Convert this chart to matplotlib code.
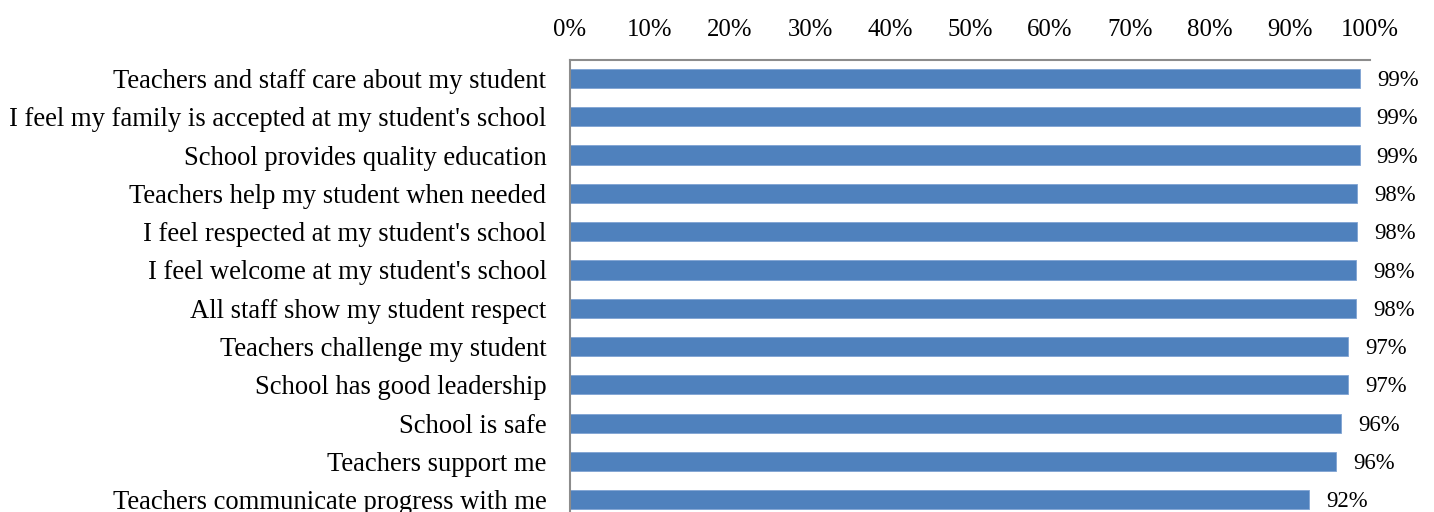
import matplotlib
matplotlib.use("Agg")
import matplotlib.pyplot as plt
from matplotlib.ticker import PercentFormatter

plt.rcParams["font.family"] = ["Liberation Serif", "DejaVu Serif"]

items = [
    "Teachers and staff care about my student",
    "I feel my family is accepted at my student's school",
    "School provides quality education",
    "Teachers help my student when needed",
    "I feel respected at my student's school",
    "I feel welcome at my student's school",
    "All staff show my student respect",
    "Teachers challenge my student",
    "School has good leadership",
    "School is safe",
    "Teachers support me",
    "Teachers communicate progress with me",
]
agree_pct = [98.8, 98.7, 98.7, 98.4, 98.4, 98.3, 98.3, 97.3, 97.3, 96.4, 95.8, 92.4]

BAR = "#4f81bd"

fig = plt.figure(figsize=(14.34, 5.12), dpi=100)
ax = fig.add_axes([0.3975, -0.0137, 0.5579, 0.8965])

y = range(len(items))
ax.barh(y, agree_pct, height=0.5, color=BAR, edgecolor="#7fa3d3", linewidth=0.6)
ax.set_ylim(len(items) - 0.5, -0.48)
ax.set_xlim(0, 100)

ax.set_yticks(list(y))
ax.set_yticklabels(items, fontsize=19.2)
ax.set_xticks(range(0, 101, 10))
ax.xaxis.set_major_formatter(PercentFormatter(decimals=0))
ax.xaxis.tick_top()
ax.tick_params(axis="x", length=0, pad=14, labelsize=17.8)
ax.tick_params(axis="y", length=0, pad=17)

for s in ("right", "bottom"):
    ax.spines[s].set_visible(False)
for s in ("left", "top"):
    ax.spines[s].set_color("#8c8c8c")
    ax.spines[s].set_linewidth(1.5)

# value labels just past the end of each bar
for i, v in enumerate(agree_pct):
    ax.annotate(f"{v:.0f}%", (v, i), xytext=(12, -1.5), textcoords="offset points",
                va="center", ha="left", fontsize=16.4)

fig.savefig("out.png", dpi=100, facecolor="white")
